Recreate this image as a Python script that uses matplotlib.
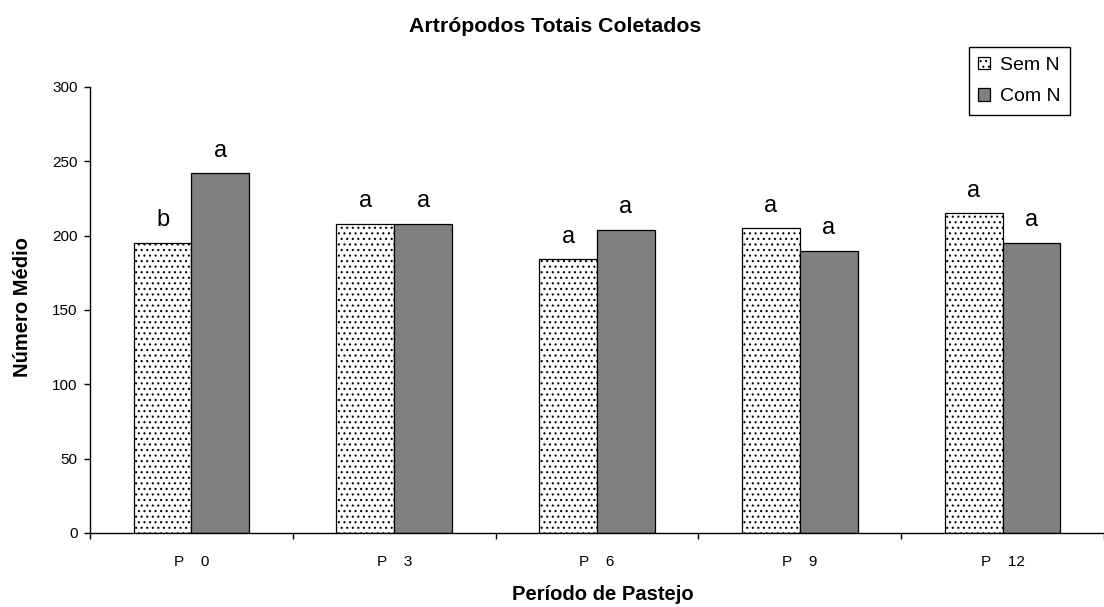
import numpy as np
import matplotlib
matplotlib.use("Agg")
from matplotlib import pyplot as plt
from matplotlib.patches import Patch

plt.rcParams['font.family'] = ['Liberation Sans', 'DejaVu Sans']
plt.rcParams['hatch.linewidth'] = 0.8

# Dados
periodos = ['P    0', 'P    3', 'P    6', 'P    9', 'P    12']
sem_n = [195, 208, 184, 205, 215]
com_n = [242, 208, 204, 190, 195]
letras_sem = ['b', 'a', 'a', 'a', 'a']
letras_com = ['a', 'a', 'a', 'a', 'a']

fig = plt.figure(figsize=(11.04, 6.07), dpi=100)
W, H = 1104, 607
ax = fig.add_axes([90 / W, 1 - 533 / H, (W - 90) / W, (533 - 87) / H])

x = np.arange(len(periodos))
larg = 0.285
b1 = ax.bar(x, sem_n, width=-larg, align='edge', color='white', edgecolor='black',
            linewidth=0.9, hatch='...', label='Sem N')
b2 = ax.bar(x, com_n, width=larg, align='edge', color='#808080', edgecolor='black',
            linewidth=0.9, label='Com N')

# letras de significancia
for xi, v, l in zip(x - larg / 2, sem_n, letras_sem):
    ax.annotate(l, (xi, v), xytext=(0, 12), textcoords='offset points',
                ha='center', va='baseline', fontsize=17)
for xi, v, l in zip(x + larg / 2, com_n, letras_com):
    ax.annotate(l, (xi, v), xytext=(0, 12), textcoords='offset points',
                ha='center', va='baseline', fontsize=17)

ax.set_ylim(0, 300)
ax.set_xlim(-0.5, 4.5 - 10 / 204.75)
ax.set_yticks(np.arange(0, 301, 50))
ax.tick_params(axis='y', direction='out', length=4, width=1, pad=5, labelsize=11)

ax.set_xticks(np.arange(-0.5, 5, 1.0))
ax.set_xticklabels([])
ax.set_xticks(x, minor=True)
ax.set_xticklabels(periodos, minor=True)
ax.tick_params(axis='x', which='major', direction='out', length=4, width=1)
ax.tick_params(axis='x', which='minor', length=0, pad=16, labelsize=11)

for s in ['top', 'right']:
    ax.spines[s].set_visible(False)
for s in ['left', 'bottom']:
    ax.spines[s].set_linewidth(1)

fig.text(555 / W, 1 - 26 / H, 'Artrópodos Totais Coletados', ha='center', va='center',
         fontsize=15.3, fontweight='bold')
fig.text(23 / W, 1 - 307 / H, 'Número Médio', ha='center', va='center', rotation=90,
         fontsize=14.5, fontweight='bold')
fig.text(603 / W, 1 - 595 / H, 'Período de Pastejo', ha='center', va='center',
         fontsize=14.5, fontweight='bold')

handles = [Patch(facecolor='white', edgecolor='black', hatch='...', linewidth=0.9),
           Patch(facecolor='#808080', edgecolor='black', linewidth=0.9)]
leg = fig.legend(handles, ['Sem N', 'Com N'], loc='upper right',
                 bbox_to_anchor=(1070 / W, 1 - 47 / H), fontsize=14,
                 fancybox=False, framealpha=1, edgecolor='black',
                 handlelength=0.6, handleheight=0.6, handletextpad=0.5,
                 borderpad=0.5, labelspacing=0.75, borderaxespad=0)
leg.get_frame().set_linewidth(1)

fig.savefig('out.png', dpi=100)
